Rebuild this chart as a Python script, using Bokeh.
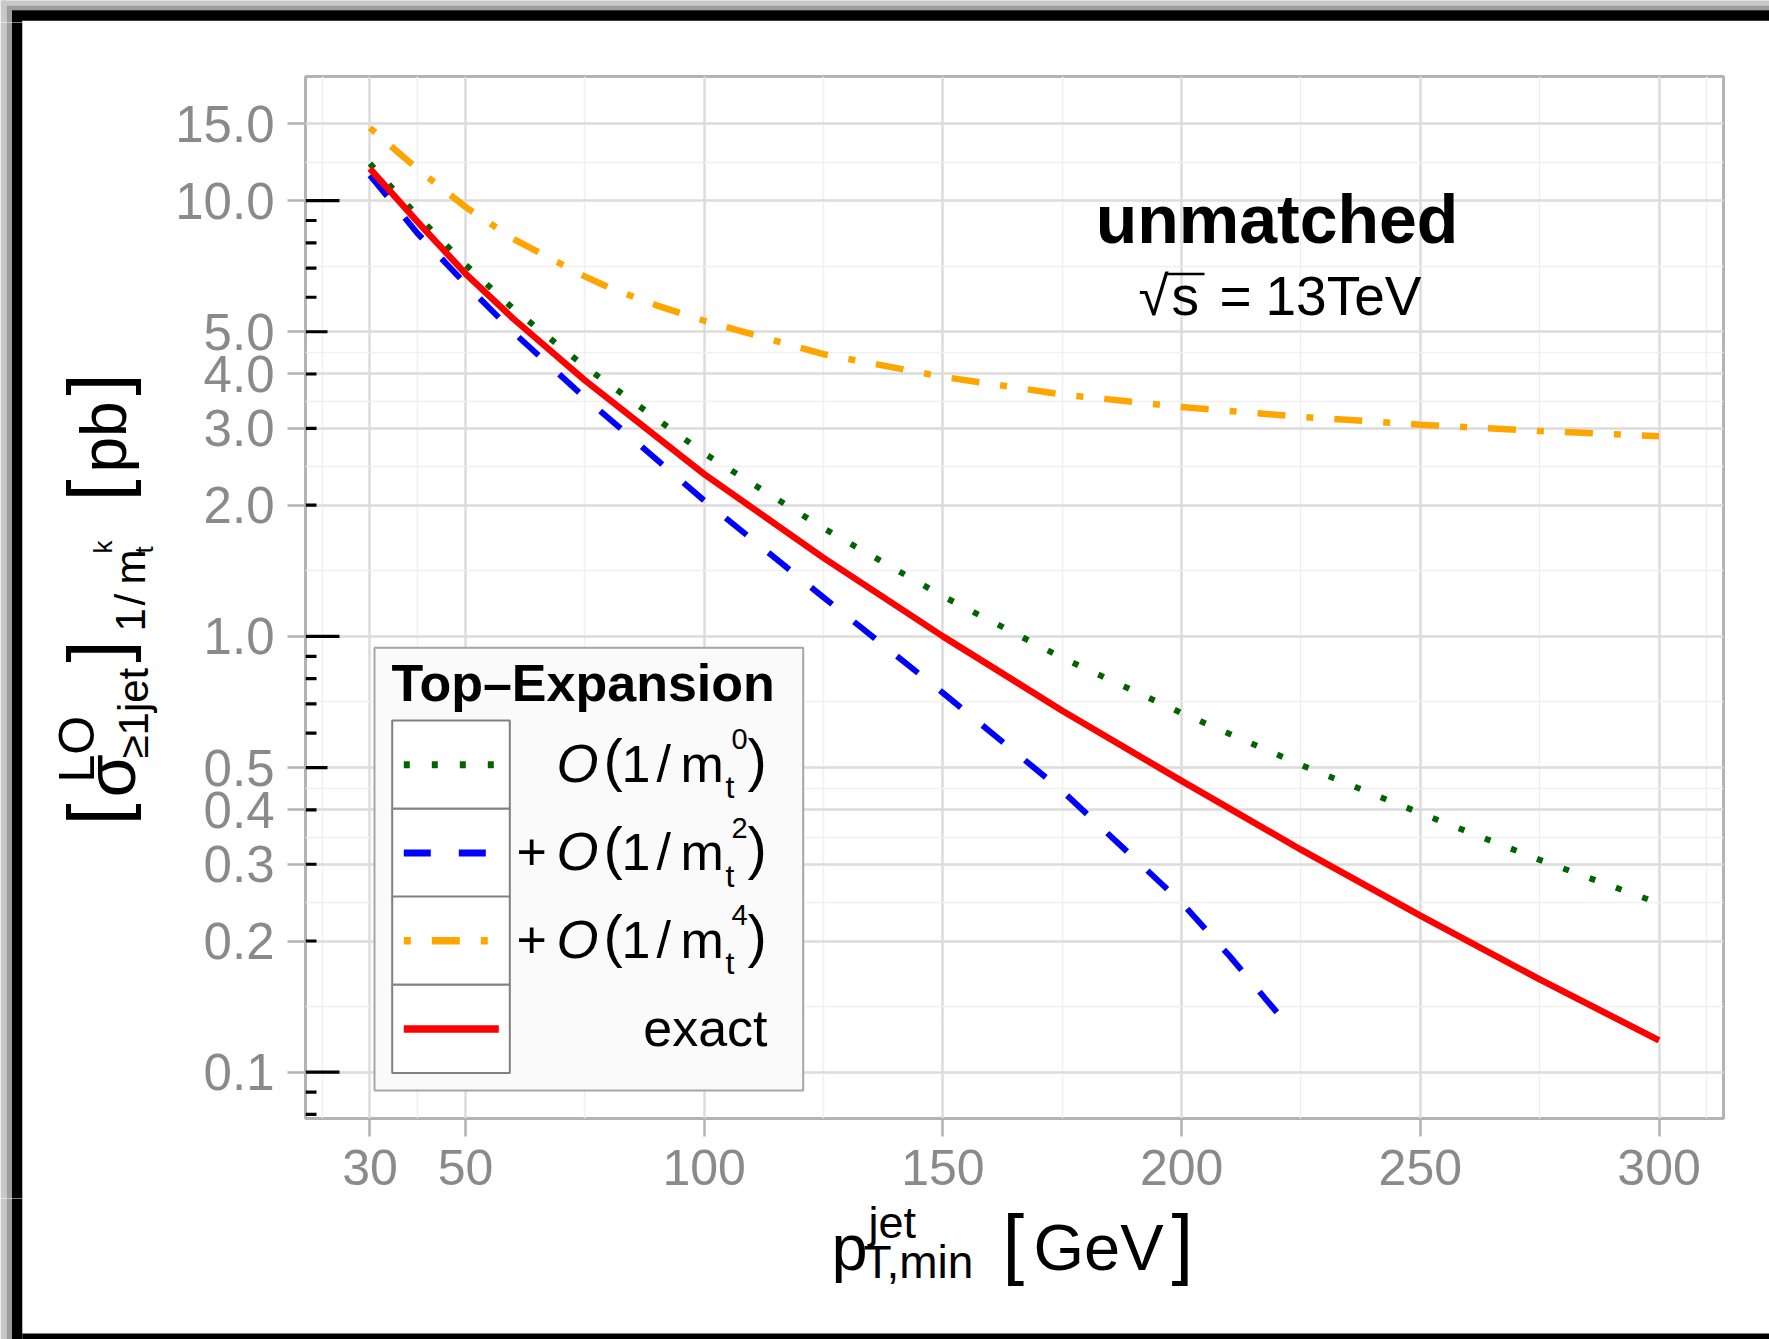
import math
from bokeh.plotting import figure
from bokeh.layouts import column, row
from bokeh.models import (Range1d, FixedTicker, PrintfTickFormatter, Label,
                          LinearScale)
from bokeh.embed import file_html
from bokeh.resources import INLINE

# ---------------- data ----------------
pt_m0 = [30, 40, 50, 60, 75, 100, 125, 150, 175, 200, 225, 250, 275, 300]
sigma_m0 = [12.16, 9.22, 7.13, 5.65, 4.16, 2.63, 1.77, 1.236, 0.893, 0.667,
            0.507, 0.393, 0.307, 0.244]
pt_m2 = [30, 40, 50, 60, 75, 100, 125, 150, 175, 200, 210, 220]
sigma_m2 = [11.43, 8.40, 6.44, 4.99, 3.53, 2.05, 1.229, 0.742, 0.442, 0.245,
            0.185, 0.137]
pt_m4 = [30, 40, 50, 60, 75, 80, 90, 100, 125, 150, 175, 200, 225, 250, 275, 300]
sigma_m4 = [14.68, 11.8, 9.67, 8.17, 6.70, 6.32, 5.75, 5.30, 4.44, 3.94, 3.59,
            3.36, 3.19, 3.06, 2.96, 2.88]
pt_exact = [30, 40, 50, 60, 75, 100, 125, 150, 175, 200, 225, 250, 275, 300]
sigma_exact = [11.84, 8.93, 6.80, 5.36, 3.87, 2.357, 1.514, 1.0, 0.675, 0.466,
               0.324, 0.2286, 0.1633, 0.1183]

x_ticks = [30, 50, 100, 150, 200, 250, 300]
x_minor = [20, 40, 75, 125, 175, 225, 275, 310]
y_ticks = [0.1, 0.2, 0.3, 0.4, 0.5, 1.0, 2.0, 3.0, 4.0, 5.0, 10.0, 15.0]
y_minor = [math.sqrt(a * b) for a, b in zip(y_ticks[:-1], y_ticks[1:])]
logtick_long = [0.1, 1.0, 10.0]
logtick_mid = [0.5, 5.0]
logtick_short = [0.08, 0.09, 0.2, 0.3, 0.4, 0.6, 0.7, 0.8, 0.9,
                 2, 3, 4, 6, 7, 8, 9]

legend_order = ["m0", "m2", "m4", "exact"]
legend_powers = ["0", "2", "4"]

# ---------------- page geometry ----------------
W, H = 1769, 1339
TOPH = 22          # strip with the top of the page frame
YW = 165           # strip with the y-axis title
MH = 1198          # page y where the x-title strip starts
FL, FT, FR, FB = 305, 76, 1723, 1118   # plot frame on the page
FW, FH = FR - FL, FB - FT
FONT = "Liberation Sans"
K = 0.37  # baseline calibration (fraction of font size)


def no_align(f):
    try:
        f.frame_align = False
    except Exception:
        pass


def strip(x0, y0, x1, y1):
    f = figure(width=x1 - x0, height=y1 - y0, x_range=Range1d(x0, x1),
               y_range=Range1d(y1, y0), output_backend="svg",
               toolbar_location=None, tools="", x_axis_location=None,
               y_axis_location=None, min_border=0)
    no_align(f)
    f.outline_line_color = None
    f.background_fill_color = "white"
    f.border_fill_color = "white"
    for g in f.grid:
        g.visible = False
    # page frame: soft shadow + black border, drawn as non-overlapping bands
    big = 3000
    f.quad(left=[0, 0, 6, 11.5, 11.5, 11.5, 21.8, 21.8],
           right=[6, big, 11.5, big, 21.8, big, big, big],
           top=[-50, -50, 5, 5, 10, 10, 10, 1333],
           bottom=[big, 5, big, 10, 1343, 20, 20, 1343],
           fill_color=["#c8c8c8", "#c8c8c8", "#9e9e9e", "#9e9e9e",
                       "black", "black", "black", "black"],
           line_color=None)
    return f


def plab(f, text, x, y, size, style="normal", align="left", angle=0.0):
    """Label on a page strip; (x, y) = page baseline anchor."""
    if angle == 0.0:
        ax, ay = x, y - K * size
    else:
        ax, ay = x - K * size, y
    f.add_layout(Label(x=ax, y=ay, text=text, text_font=FONT,
                       text_font_size=f"{size}px", text_font_style=style,
                       text_color="black", text_align=align,
                       text_baseline="alphabetic", angle=angle))


# ---------------- main plot ----------------
p = figure(width=W - YW, height=MH - TOPH, x_range=Range1d(16.5, 313.5),
           y_range=Range1d(0.0783, 19.26), y_axis_type="log",
           output_backend="svg", toolbar_location=None, tools="",
           min_border_left=FL - YW, min_border_right=W - FR,
           min_border_top=FT - TOPH, min_border_bottom=MH - FB)
no_align(p)
p.extra_x_ranges = {"px": Range1d(0, FW)}
p.extra_y_ranges = {"py": Range1d(FH, 0)}
p.extra_x_scales = {"px": LinearScale()}
p.extra_y_scales = {"py": LinearScale()}
p.border_fill_color = "white"
p.background_fill_color = "white"
p.outline_line_color = "#b3b3b3"
p.outline_line_width = 3


def X(v):
    return v - FL


def Y(v):
    return v - FT


for ax in p.xaxis:
    ax.ticker = FixedTicker(ticks=x_ticks, minor_ticks=x_minor)
for ax in p.yaxis:
    ax.ticker = FixedTicker(ticks=y_ticks, minor_ticks=y_minor)
    ax.formatter = PrintfTickFormatter(format="%.1f")
for ax in list(p.xaxis) + list(p.yaxis):
    ax.axis_line_color = None
    ax.major_tick_in = 0
    ax.major_tick_out = 18
    ax.major_tick_line_color = "#b3b3b3"
    ax.major_tick_line_width = 2.5
    ax.minor_tick_line_color = None
    ax.major_label_text_font = FONT
    ax.major_label_text_color = "#8a8a8a"
p.xaxis.major_label_text_font_size = "50px"
p.yaxis.major_label_text_font_size = "51px"
p.xaxis.major_label_standoff = 13
p.yaxis.major_label_standoff = 13

p.grid.grid_line_color = "#dcdcdc"
p.grid.grid_line_width = 2.5
p.grid.minor_grid_line_color = "#f0f0f0"
p.grid.minor_grid_line_width = 1.6

# log ticks (annotation_logticks style)
for vals, ln in ((logtick_long, 34), (logtick_mid, 22), (logtick_short, 11)):
    p.segment(x0=[0] * len(vals), x1=[ln] * len(vals), y0=vals, y1=vals,
              x_range_name="px", line_color="black", line_width=3.2)

styles = {
    "m0": dict(color="#006400", width=6, dash="6 22"),
    "m2": dict(color="#0000ff", width=6, dash="27 28"),
    "m4": dict(color="#ffa500", width=6.5, dash="7 21 28 21"),
    "exact": dict(color="#ff0000", width=6.5, dash="solid"),
}
series = {"m0": (pt_m0, sigma_m0), "m2": (pt_m2, sigma_m2),
          "m4": (pt_m4, sigma_m4), "exact": (pt_exact, sigma_exact)}
for key in ["m4", "m0", "m2", "exact"]:
    xs, ys = series[key]
    s = styles[key]
    p.line(xs, ys, line_color=s["color"], line_width=s["width"],
           line_dash=s["dash"])


def lab(text, x, y, size, style="normal", align="left"):
    """Label inside the plot frame; (x, y) = page baseline anchor."""
    p.add_layout(Label(x=x - FL, y=FB - (y - K * size), x_units="screen",
                       y_units="screen", text=text, text_font=FONT,
                       text_font_size=f"{size}px", text_font_style=style,
                       text_color="black", text_align=align,
                       text_baseline="alphabetic"))


# legend
p.quad(left=[X(374)], right=[X(802.7)], top=[Y(647.3)], bottom=[Y(1090)],
       x_range_name="px", y_range_name="py", fill_color="#fafafa",
       line_color="#a6a6a6", line_width=2)
row_tops = [720, 808.3, 896, 984.3]
row_h = 88.3
p.quad(left=[X(391.7)] * 4, right=[X(509.3)] * 4,
       top=[Y(t) for t in row_tops], bottom=[Y(t + row_h) for t in row_tops],
       x_range_name="px", y_range_name="py", fill_color="white",
       line_color="#808080", line_width=2)
for key, t in zip(legend_order, row_tops):
    s = styles[key]
    yc = Y(t + row_h / 2)
    p.line([X(403.3), X(498.3)], [yc, yc], x_range_name="px",
           y_range_name="py", line_color=s["color"], line_width=s["width"] + 1,
           line_dash=s["dash"])

lab("Top\u2013Expansion", 391, 701.7, 52, style="bold")
for i, t in enumerate(row_tops[:3]):
    b = t + row_h / 2 + 18.4
    if i > 0:
        lab("+", 516, b, 52)
    lab("O", 556, b, 54, style="italic")
    lab("(", 603, b - 2, 58)
    lab("1", 621, b, 52)
    lab("/", 656, b, 52)
    lab("m", 680, b, 52)
    lab("t", 725, b + 16, 32)
    lab(legend_powers[i], 731, b - 33, 29)
    lab(")", 747, b - 2, 58)
lab("exact", 767, row_tops[3] + row_h / 2 + 18.4, 52, align="right")

# text in the panel
lab("unmatched", 1276.5, 243.3, 68, style="bold", align="center")
lab("\u221a", 1138, 315.7, 55)
p.line([X(1166), X(1204)], [Y(273.5), Y(273.5)], x_range_name="px",
       y_range_name="py", line_color="black", line_width=2.5)
lab("s", 1171, 315.7, 55)
lab("=", 1219, 315.7, 55)
lab("13TeV", 1265, 315.7, 55)

# ---------------- page strips ----------------
f_top = strip(0, 0, W, TOPH)
f_y = strip(0, TOPH, YW, MH)
f_x = strip(0, MH, W, H)

# x axis title
plab(f_x, "p", 831, 1271, 65)
plab(f_x, "jet", 868, 1239, 45)
plab(f_x, "T,min", 863, 1279, 46)
plab(f_x, "[", 1002, 1271, 78)
plab(f_x, "GeV", 1033, 1271, 65)
plab(f_x, "]", 1171, 1271, 78)

# y axis title (rotated)
A = math.pi / 2
plab(f_y, "[", 126, 825, 80, angle=A)
plab(f_y, "\u03c3", 136, 797, 70, angle=A)
plab(f_y, "LO", 95, 782, 50, angle=A)
plab(f_y, "\u22651jet", 149, 758, 42, angle=A)
plab(f_y, "]", 126, 662, 80, angle=A)
plab(f_y, "1", 146, 631, 42, angle=A)
plab(f_y, "/", 146, 605, 42, angle=A)
plab(f_y, "m", 146, 584, 42, angle=A)
plab(f_y, "t", 153, 553, 26, angle=A)
plab(f_y, "k", 112, 553, 26, angle=A)
plab(f_y, "[", 126, 501, 80, angle=A)
plab(f_y, "pb", 127, 472, 64, angle=A)
plab(f_y, "]", 126, 395, 80, angle=A)

page = column(f_top, row(f_y, p), f_x)
open("out.html", "w").write(file_html(page, INLINE))
